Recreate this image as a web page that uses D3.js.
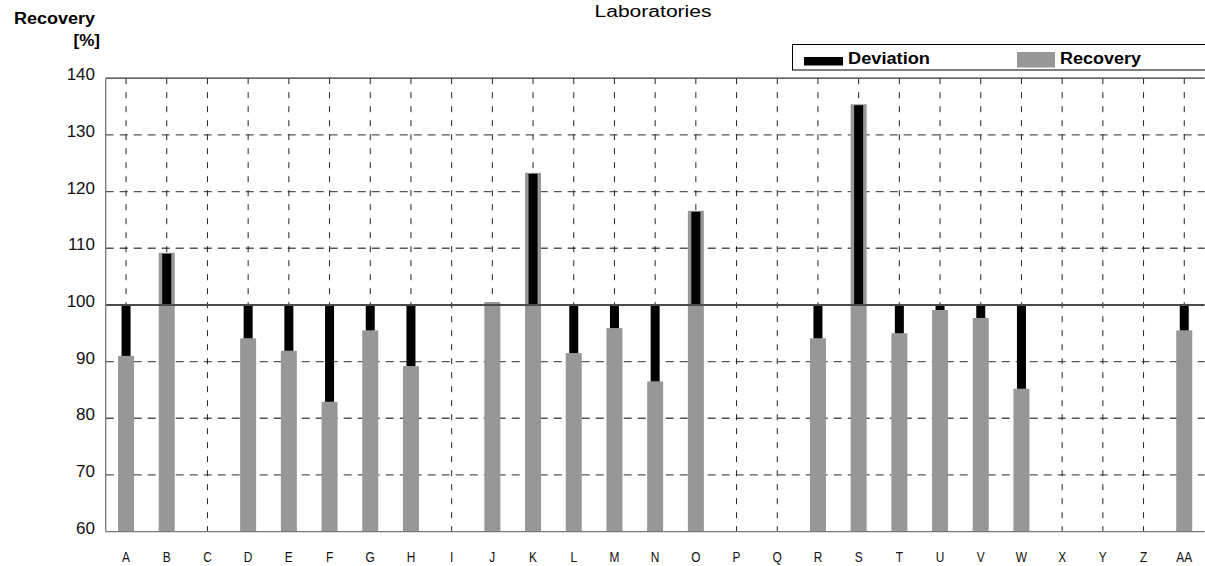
<!DOCTYPE html>
<html>
<head>
<meta charset="utf-8">
<script src="https://cdn.jsdelivr.net/npm/d3@7"></script>
<style>
  html, body { margin: 0; padding: 0; background: #fff; }
  svg { display: block; font-family: "Liberation Sans", Arial, sans-serif; }
</style>
</head>
<body>
<svg id="chart"></svg>
<script>
// ---- data ----
const labs = ["A","B","C","D","E","F","G","H","I","J","K","L","M","N","O","P","Q","R","S","T","U","V","W","X","Y","Z","AA"];
const recovery = [91.0, 109.2, null, 94.1, 91.9, 82.9, 95.5, 89.2, null, 100.5, 123.3, 91.5, 95.9, 86.5, 116.6, null, null, 94.1, 135.4, 95.0, 99.1, 97.7, 85.2, null, null, null, 95.5];
const deviation = [-9.0, 9.2, null, -5.9, -8.1, -17.1, -4.5, -10.8, null, 0, 23.3, -8.5, -4.1, -13.5, 16.6, null, null, -5.9, 35.4, -5.0, -0.9, -2.3, -14.8, null, null, null, -4.5];
const yTicks = [60, 70, 80, 90, 100, 110, 120, 130, 140];

const width = 1205, height = 566;
const plotLeft = 105.7, plotRight = 1204.6, plotTop = 78.2, plotBottom = 531.6;

const svg = d3.select("#chart").attr("width", width).attr("height", height);

const x = d3.scaleBand().domain(labs).range([plotLeft, plotRight]);
const y = d3.scaleLinear().domain([60, 140]).range([plotBottom, plotTop]);
const cx = d => x(d) + x.bandwidth() / 2;

// ---- grid ----
const grid = svg.append("g");
grid.selectAll("line.h")
  .data(yTicks.filter(t => t > 60 && t < 140 && t !== 100))
  .enter().append("line")
  .attr("x1", plotLeft).attr("x2", plotRight)
  .attr("y1", d => y(d)).attr("y2", d => y(d))
  .attr("stroke", "#555").attr("stroke-width", 1.3)
  .attr("stroke-dasharray", "8,6");

grid.selectAll("line.v")
  .data(labs)
  .enter().append("line")
  .attr("x1", d => cx(d)).attr("x2", d => cx(d))
  .attr("y1", plotTop).attr("y2", plotBottom)
  .attr("stroke", "#222").attr("stroke-width", 1)
  .attr("stroke-dasharray", "6,8");

// ---- bars ----
const idx = d3.range(labs.length);
const gw = 16, bw = 9;

svg.append("g").selectAll("rect")
  .data(idx.filter(i => recovery[i] != null))
  .enter().append("rect")
  .attr("x", i => cx(labs[i]) - gw / 2)
  .attr("width", gw)
  .attr("y", i => y(recovery[i]))
  .attr("height", i => y(60) - y(recovery[i]))
  .attr("fill", "#979797");

svg.append("g").selectAll("rect")
  .data(idx.filter(i => deviation[i] != null && deviation[i] !== 0))
  .enter().append("rect")
  .attr("x", i => cx(labs[i]) - bw / 2)
  .attr("width", bw)
  .attr("y", i => deviation[i] > 0 ? y(100 + deviation[i]) + 1 : y(100))
  .attr("height", i => Math.abs(y(100 + deviation[i]) - y(100)) - (deviation[i] > 0 ? 1 : 0))
  .attr("fill", "#000");

// ---- axes / reference line ----
svg.append("line")
  .attr("x1", plotLeft).attr("x2", plotRight)
  .attr("y1", y(100)).attr("y2", y(100))
  .attr("stroke", "#4a4a4a").attr("stroke-width", 2);
svg.append("line")
  .attr("x1", plotLeft).attr("x2", plotRight)
  .attr("y1", y(140)).attr("y2", y(140))
  .attr("stroke", "#333").attr("stroke-width", 1.3);
svg.append("line")
  .attr("x1", plotLeft).attr("x2", plotRight)
  .attr("y1", y(60)).attr("y2", y(60))
  .attr("stroke", "#777").attr("stroke-width", 1.3);
svg.append("line")
  .attr("x1", plotLeft).attr("x2", plotLeft)
  .attr("y1", y(140)).attr("y2", y(60))
  .attr("stroke", "#777").attr("stroke-width", 1.3);

// tick labels
svg.append("g").selectAll("text")
  .data(yTicks)
  .enter().append("text")
  .attr("x", 95)
  .attr("y", d => y(d) + 2)
  .attr("text-anchor", "end")
  .attr("font-size", 17)
  .attr("fill", "#111")
  .text(d => d);

svg.append("g").selectAll("text")
  .data(labs)
  .enter().append("text")
  .attr("x", d => cx(d))
  .attr("y", 562)
  .attr("text-anchor", "middle")
  .attr("font-size", 14)
  .attr("fill", "#111")
  .attr("transform", d => `translate(${cx(d)},0) scale(0.85,1) translate(${-cx(d)},0)`)
  .text(d => d);

// ---- titles ----
svg.append("text")
  .attr("x", 653).attr("y", 17)
  .attr("text-anchor", "middle")
  .attr("font-size", 16)
  .attr("textLength", 117).attr("lengthAdjust", "spacingAndGlyphs")
  .text("Laboratories");

svg.append("text")
  .attr("x", 14).attr("y", 24)
  .attr("font-size", 16).attr("font-weight", "bold")
  .attr("textLength", 81).attr("lengthAdjust", "spacingAndGlyphs")
  .text("Recovery");

svg.append("text")
  .attr("x", 100).attr("y", 46)
  .attr("text-anchor", "end")
  .attr("font-size", 17).attr("font-weight", "bold")
  .text("[%]");

// ---- legend ----
const legend = svg.append("g");
legend.append("rect")
  .attr("x", 792.5).attr("y", 44.5)
  .attr("width", 420).attr("height", 25.5)
  .attr("fill", "#fff").attr("stroke", "#000").attr("stroke-width", 1);
legend.append("rect")
  .attr("x", 804).attr("y", 57).attr("width", 39).attr("height", 8.5)
  .attr("fill", "#000");
legend.append("text")
  .attr("x", 848).attr("y", 64)
  .attr("font-size", 16).attr("font-weight", "bold")
  .attr("textLength", 82).attr("lengthAdjust", "spacingAndGlyphs")
  .text("Deviation");
legend.append("rect")
  .attr("x", 1017).attr("y", 52).attr("width", 38).attr("height", 15.5)
  .attr("fill", "#979797");
legend.append("text")
  .attr("x", 1060).attr("y", 64)
  .attr("font-size", 16).attr("font-weight", "bold")
  .attr("textLength", 81).attr("lengthAdjust", "spacingAndGlyphs")
  .text("Recovery");
</script>
</body>
</html>
